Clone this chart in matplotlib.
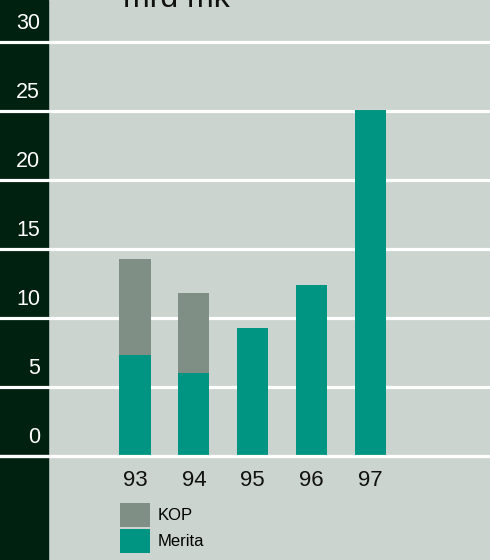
import matplotlib
matplotlib.use("Agg")
import matplotlib.pyplot as plt
from matplotlib.patches import Rectangle
from matplotlib.transforms import blended_transform_factory

years = ["93", "94", "95", "96", "97"]
merita = [7.3, 6.0, 9.3, 12.4, 25.1]
kop = [7.0, 5.8, 0, 0, 0]
yticks = [0, 5, 10, 15, 20, 25, 30]

bg = "#cbd4cf"
strip = "#00210f"
teal = "#009482"
grey = "#808f86"

plt.rcParams["font.family"] = ["Liberation Sans", "DejaVu Sans"]

fig = plt.figure(figsize=(4.9, 5.6), dpi=100, facecolor=bg)
ax = fig.add_axes([0, 0, 1, 1])
ax.set_facecolor(bg)
ax.set_xlim(-2.298, 6.04)
ax.set_ylim(-7.54, 33.04)
ax.axis("off")

# dark strip on the left
ax.add_patch(Rectangle((0, 0), 48 / 490, 1, transform=ax.transAxes,
                       color=strip, zorder=1))

for v in yticks:
    ax.axhline(v, color="white", lw=2.3, zorder=2)

x = range(len(years))
ax.bar(x, merita, width=0.53, color=teal, zorder=3, label="Merita")
ax.bar(x, kop, width=0.53, bottom=merita, color=grey, zorder=3, label="KOP")
ax.axhline(0, color="white", lw=2.3, zorder=4)

trans = blended_transform_factory(ax.transAxes, ax.transData)
for v in yticks:
    ax.text(40 / 490, v + 1.35, str(v), transform=trans, ha="right",
            va="center", color="white", fontsize=15.5, zorder=5)

for i, y in enumerate(years):
    ax.text(i, -1.75, y, ha="center", va="center", fontsize=16, color="#111111")

handles, labels = ax.get_legend_handles_labels()
ax.legend(handles[::-1], labels[::-1], loc="upper left",
          bbox_to_anchor=(120 / 490, 1 - 503 / 560), frameon=False,
          borderpad=0, borderaxespad=0, handlelength=1.8, handleheight=1.8,
          handletextpad=0.45, labelspacing=0.15, fontsize=12)

fig.text(123 / 490, 1 - 7 / 560, "mrd mk", va="baseline", ha="left",
         fontsize=23, color="#111111")

fig.savefig("out.png", dpi=100, facecolor=bg)
